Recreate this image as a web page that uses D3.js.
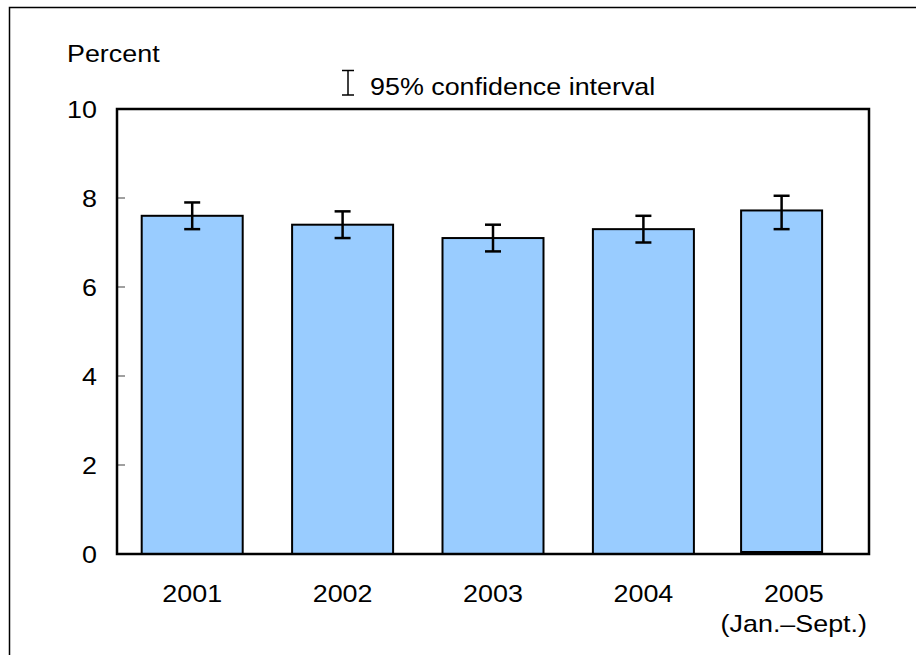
<!DOCTYPE html>
<html><head><meta charset="utf-8">
<script src="https://cdn.jsdelivr.net/npm/d3@7"></script>
<style>body{margin:0;background:#fff}svg{display:block}text{font-family:"Liberation Sans",Arial,sans-serif;fill:#000}</style>
</head><body>
<script>
const categories = ["2001", "2002", "2003", "2004", "2005"];
const subLabels = ["", "", "", "", "(Jan.–Sept.)"];
const values = [7.6, 7.4, 7.1, 7.3, 7.72];
const ciLow = [7.3, 7.1, 6.8, 7.0, 7.3];
const ciHigh = [7.9, 7.7, 7.4, 7.6, 8.05];
const yTicks = [0, 2, 4, 6, 8, 10];

const W = 916, H = 655;
const FS = 24, SX = 1.12;
const m = {left: 117, top: 109, right: 869, bottom: 554};
const svg = d3.select("body").append("svg").attr("width", W).attr("height", H);

function txt(g, tx, ty, s, anchor) {
  return g.append("text").attr("transform", `translate(${tx},${ty}) scale(${SX},1)`)
    .attr("font-size", FS).attr("text-anchor", anchor || "start").text(s);
}

// outer frame
svg.append("rect").attr("x", 9.5).attr("y", 7.5).attr("width", W).attr("height", H)
  .attr("fill", "none").attr("stroke", "#000").attr("stroke-width", 1.5);

const x = d3.scaleBand().domain(categories).range([m.left, m.right]).paddingInner(0).paddingOuter(0);
const y = d3.scaleLinear().domain([0, 10]).range([m.bottom, m.top]);

// ticks (inward)
svg.append("g").selectAll("line").data(yTicks.filter(t => t > 0 && t < 10)).join("line")
  .attr("x1", m.left).attr("x2", m.left + 8)
  .attr("y1", d => y(d)).attr("y2", d => y(d))
  .attr("stroke", "#808080").attr("stroke-width", 1.5);

const yl = svg.append("g");
yTicks.forEach(t => txt(yl, 97, y(t) + 8.5, t, "end"));

// bars
const last = categories.length - 1;
const barW = i => i === last ? 81 : 101;
const barC = (d, i) => i === last ? x(d) + 63 : x(d) + x.bandwidth() / 2;
svg.append("g").selectAll("rect").data(categories).join("rect")
  .attr("x", (d, i) => barC(d, i) - barW(i) / 2)
  .attr("width", (d, i) => barW(i))
  .attr("y", (d, i) => y(values[i]))
  .attr("height", (d, i) => y(0) - (i === last ? 2 : 0) - y(values[i]))
  .attr("fill", "#99ccff").attr("stroke", "#000").attr("stroke-width", 2);

// error bars
const eb = svg.append("g").attr("stroke", "#000").attr("stroke-width", 2.5);
categories.forEach((d, i) => {
  const cx = barC(d, i);
  eb.append("line").attr("x1", cx).attr("x2", cx).attr("y1", y(ciLow[i])).attr("y2", y(ciHigh[i]));
  eb.append("line").attr("x1", cx - 8).attr("x2", cx + 8).attr("y1", y(ciLow[i])).attr("y2", y(ciLow[i]));
  eb.append("line").attr("x1", cx - 8).attr("x2", cx + 8).attr("y1", y(ciHigh[i])).attr("y2", y(ciHigh[i]));
});

// plot frame
svg.append("rect").attr("x", m.left).attr("y", m.top)
  .attr("width", m.right - m.left).attr("height", m.bottom - m.top)
  .attr("fill", "none").attr("stroke", "#000").attr("stroke-width", 2.5);

// x labels
const xl = svg.append("g");
categories.forEach((c, i) => {
  txt(xl, x(c) + x.bandwidth() / 2, 602, c, "middle");
  if (subLabels[i]) txt(xl, x(c) + x.bandwidth() / 2, 632, subLabels[i], "middle");
});

// axis title
txt(svg, 67, 62, "Percent");

// legend
const lg = svg.append("g").attr("stroke", "#000").attr("stroke-width", 1.5);
lg.append("line").attr("x1", 348).attr("x2", 348).attr("y1", 70.5).attr("y2", 95);
lg.append("line").attr("x1", 342).attr("x2", 354).attr("y1", 70.5).attr("y2", 70.5);
lg.append("line").attr("x1", 342).attr("x2", 354).attr("y1", 95).attr("y2", 95);
txt(svg, 370, 95, "95% confidence interval");
</script>
</body></html>
